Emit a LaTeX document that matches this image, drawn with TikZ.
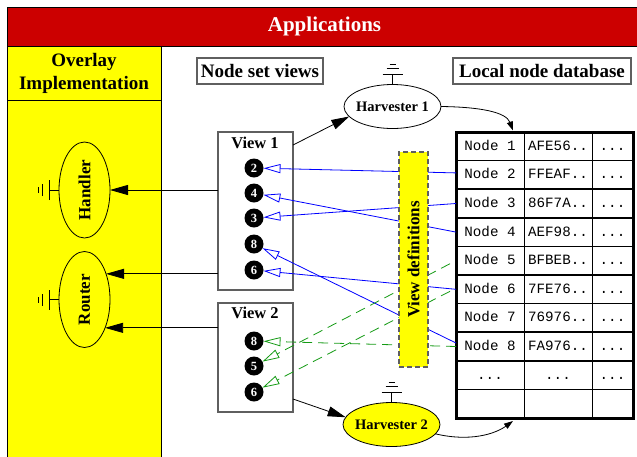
\documentclass[tikz,border=0pt]{standalone}
\usepackage{graphicx}
\usepackage{fontspec}
\setmainfont{Liberation Serif}
\setmonofont{Liberation Mono}
\usetikzlibrary{arrows.meta,shapes.geometric}
\definecolor{appred}{RGB}{204,0,0}
\definecolor{ovyellow}{RGB}{255,255,0}
\definecolor{linkblue}{RGB}{0,0,255}
\definecolor{linkgreen}{RGB}{20,155,20}
\definecolor{framegray}{RGB}{95,95,95}
\tikzset{
  earth/.pic={\draw[line width=0.9pt] (0,0) -- (0,-10) (-10,-10) -- (10,-10)
     (-6,-16.5) -- (6,-16.5) (-3,-20.5) -- (3,-20.5);}
}
\begin{document}
\begin{tikzpicture}[x=1pt,y=-1pt,
  every node/.style={inner sep=0pt, outer sep=0pt},
  heading/.style={font=\bfseries\fontsize{19}{23}\selectfont, align=center},
  labelbox/.style={draw=framegray, line width=1.1pt, fill=white, minimum height=26pt,
                   font=\bfseries\fontsize{19}{23}\selectfont},
  viewbox/.style={draw=framegray, line width=1.2pt, fill=white, minimum width=75pt},
  viewtitle/.style={font=\bfseries\fontsize{16.5}{18}\selectfont},
  dot/.style={circle, fill=black, minimum size=19pt, text=white,
              font=\bfseries\fontsize{12.5}{13}\selectfont},
  harvester/.style={ellipse, draw, line width=0.8pt, minimum width=97pt, minimum height=44pt,
                    font=\bfseries\fontsize{14.5}{16}\selectfont},
  module/.style={ellipse, draw, line width=0.8pt, minimum width=51pt, minimum height=96pt,
                 font=\bfseries\fontsize{17}{18}\selectfont},
  cell/.style={minimum width=68pt, minimum height=28.6pt, text height=10pt, text depth=2pt,
               font=\ttfamily\fontsize{14.2}{14}\selectfont},
  bigtip/.style={-{Triangle[length=18pt,width=10pt]}, line width=0.8pt},
  smalltip/.style={-{Triangle[length=9pt,width=6pt]}, line width=0.8pt},
  bluelink/.style={draw=linkblue, line width=0.8pt, -{Triangle[open,length=17pt,width=9pt]}},
  greenlink/.style={draw=linkgreen, line width=0.8pt, dash pattern=on 10pt off 6pt,
                    -{Triangle[open,length=17pt,width=9pt]}},
]
% canvas
\fill[white] (0,0) rectangle (637,456);
\useasboundingbox (0,0) rectangle (637,456);

% application layer and overlay column
\draw[fill=appred, line width=1pt] (7,7) rectangle (645,46);
\node[text=white, font=\bfseries\fontsize{21}{24}\selectfont] (apps) at (324.5,26) {Applications};
\draw[fill=ovyellow, line width=1pt] (7,46) rectangle (161,465);
\draw[line width=1pt] (7,100) -- (161,100);
\node[heading] (overlay) at (84,73) {Overlay\\Implementation};

% section labels
\node[labelbox, minimum width=126pt] (setviews) at (260,71) {Node set views};
\node[labelbox, minimum width=178pt] (localdb) at (542,71) {Local node database};

% overlay modules
\node[module] (handler) at (84.5,190) {\rotatebox{90}{Handler}};
\node[module] (router) at (84.5,299.5) {\rotatebox{90}{Router}};
\pic[rotate=90] at (handler.west) {earth};
\pic[rotate=90] at (router.west) {earth};

% harvesters
\node[harvester] (harv1) at (392.5,106.5) {\makebox[0pt]{Harvester 1}};
\node[harvester, fill=ovyellow] (harv2) at (391.5,424.5) {\makebox[0pt]{Harvester 2}};
\pic at (harv1.north) {earth};
\pic at (harv2.north) {earth};

% views
\node[viewbox, minimum height=158pt] (view1) at (255.5,211) {};
\node[viewtitle] (v1title) at (255,143) {View 1};
\node[viewbox, minimum height=109pt] (view2) at (255.5,357.5) {};
\node[viewtitle] (v2title) at (255,313) {View 2};

\node[dot] (a2) at (254,168) {2};
\node[dot] (a4) at (254,193) {4};
\node[dot] (a3) at (254,218) {3};
\node[dot] (a8) at (254,244) {8};
\node[dot] (a6) at (254,270) {6};
\node[dot] (b8) at (254,341) {8};
\node[dot] (b5) at (254,366) {5};
\node[dot] (b6) at (254,392) {6};

% node database table
\node[draw, line width=3pt, minimum width=177pt, minimum height=286pt] (db) at (544.5,275) {};
\foreach \k in {1,...,9}
  \draw[line width=1.5pt] (456,{132+28.6*\k}) -- (633,{132+28.6*\k});
\draw[line width=1pt] (524,132) -- (524,418) (592,132) -- (592,418);

\node[cell] (r1) at (490,146.3) {Node 1};
\node[cell] (h1) at (558,146.3) {AFE56..};
\node[cell] (m1) at (612.5,146.3) {...};
\node[cell] (r2) at (490,174.9) {Node 2};
\node[cell] (h2) at (558,174.9) {FFEAF..};
\node[cell] (m2) at (612.5,174.9) {...};
\node[cell] (r3) at (490,203.5) {Node 3};
\node[cell] (h3) at (558,203.5) {86F7A..};
\node[cell] (m3) at (612.5,203.5) {...};
\node[cell] (r4) at (490,232.1) {Node 4};
\node[cell] (h4) at (558,232.1) {AEF98..};
\node[cell] (m4) at (612.5,232.1) {...};
\node[cell] (r5) at (490,260.7) {Node 5};
\node[cell] (h5) at (558,260.7) {BFBEB..};
\node[cell] (m5) at (612.5,260.7) {...};
\node[cell] (r6) at (490,289.3) {Node 6};
\node[cell] (h6) at (558,289.3) {7FE76..};
\node[cell] (m6) at (612.5,289.3) {...};
\node[cell] (r7) at (490,317.9) {Node 7};
\node[cell] (h7) at (558,317.9) {76976..};
\node[cell] (m7) at (612.5,317.9) {...};
\node[cell] (r8) at (490,346.5) {Node 8};
\node[cell] (h8) at (558,346.5) {FA976..};
\node[cell] (m8) at (612.5,346.5) {...};
\node[cell] (r9) at (490,375.1) {...};
\node[cell] (h9) at (558,375.1) {...};
\node[cell] (m9) at (612.5,375.1) {...};

% views feed the overlay modules
\draw[bigtip] (view1.west |- handler.east) -- (handler.east);
\draw[bigtip] (view1.west |- router.50) -- (router.50);
\draw[bigtip] (view2.west |- router.-54) -- (router.-54);

% views drive the harvesters, which fill the database
\draw[bigtip] ([yshift=-13pt]view1.north east) -- (harv1.193);
\draw[bigtip] ([yshift=13pt]view2.south east) -- (harv2.171);
\draw[smalltip] (harv1.east) .. controls (480,107) and (506,112) .. ([xshift=-31.5pt,yshift=1.5pt]db.north);
\draw[smalltip] (harv2.-12) .. controls (470,442) and (495,434) .. ([xshift=-31.5pt,yshift=-3pt]db.south);

% view 1 membership
\draw[bluelink] ([yshift=2pt]r2.west) -- (a2);
\draw[bluelink] (r3.west) -- (a3);
\draw[bluelink] (r4.west) -- (a4);
\draw[bluelink] (r6.west) -- (a6);
\draw[bluelink] ([yshift=3.5pt]r8.west) -- (a8);

% view 2 membership
\draw[greenlink] (r8.west) -- (b8);
\draw[greenlink] ([xshift=-6pt,yshift=-3pt]r5.west) -- (b5);
\draw[greenlink] ([xshift=-6pt,yshift=-2pt]r6.west) -- (b6);

% view definitions sit over the links
\node[draw=framegray, fill=ovyellow, line width=1.1pt, dash pattern=on 5pt off 3pt,
      minimum width=29pt, minimum height=215pt] (viewdefs) at (413.5,259.5)
      {\rotatebox{90}{\bfseries\fontsize{17}{19}\selectfont View definitions}};
\end{tikzpicture}
\end{document}
